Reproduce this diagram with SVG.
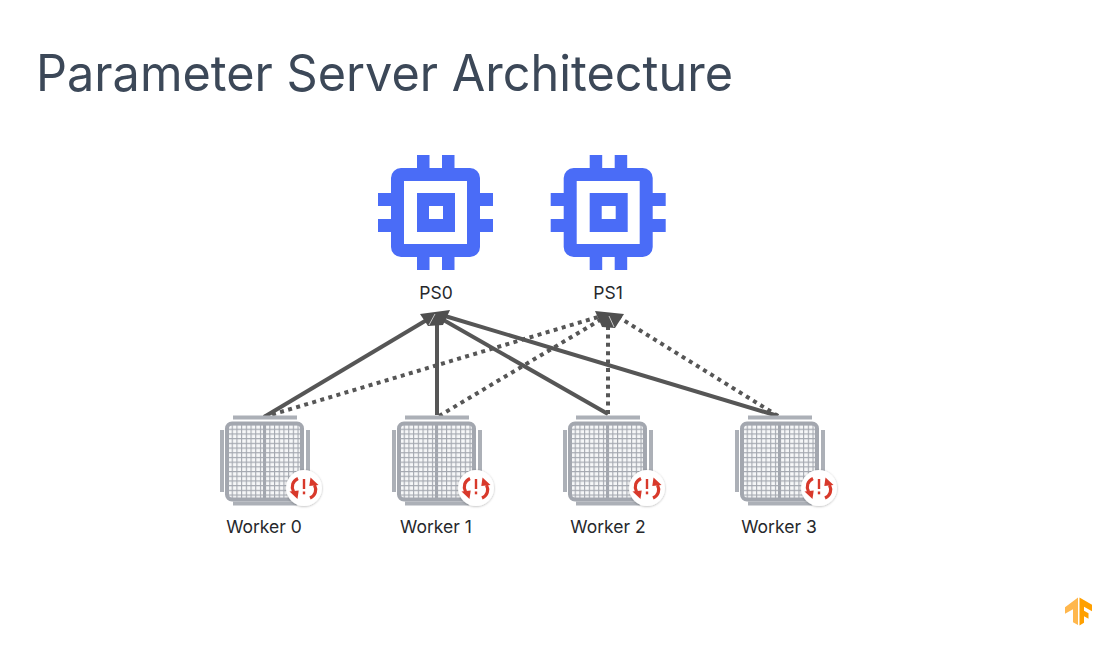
<svg xmlns="http://www.w3.org/2000/svg" xmlns:xlink="http://www.w3.org/1999/xlink" width="1108" height="645" viewBox="0 0 1108 645">
<style>
.lbl{font-family:"Inter","Liberation Sans",sans-serif;font-size:17.500px;fill:#26282c;text-anchor:middle}
.title{font-family:"Inter","Liberation Sans",sans-serif;font-size:50px;fill:#3c4858}
.solid{fill:none;stroke:#565656;stroke-width:4}
.dot{fill:none;stroke:#565656;stroke-width:4;stroke-dasharray:4 4.400}
.head{fill:#4f4f4f}
.slit{fill:none;stroke:#c9c9c9;stroke-width:1}
.chip{fill:#4a6cf7}
.bar{fill:#acb0b7}
.red{fill:none;stroke:#d8392b;stroke-width:3.200}
.redf{fill:#d8392b}
</style>
<defs>
<pattern id="mesh" x="227" y="424" width="4.700" height="4.700" patternUnits="userSpaceOnUse">
<rect width="4.700" height="4.700" fill="#f6f7f8"/>
<path d="M0 0H4.700M0 0V4.700" stroke="#a4a8b0" stroke-width="2.200" fill="none"/>
</pattern>
<filter id="soft" x="-30%" y="-30%" width="160%" height="160%">
<feDropShadow dx="0" dy="0.500" stdDeviation="1.200" flood-color="#000000" flood-opacity="0.300"/>
</filter>
<g id="chipIcon">
<path class="chip" fill-rule="evenodd" d="M417 155h12.500v13h12.500v-13h12.500v13h15.500a10 10 0 0 1 10 10v15h13v13h-13v13h13v13h-13v15a10 10 0 0 1 -10 10h-15.500v13h-12.500v-13h-12.500v13h-12.500v-13h-16a10 10 0 0 1 -10 -10v-15h-13v-13h13v-13h-13v-13h13v-15a10 10 0 0 1 10 -10h16zM404 181v63h63v-63zM417 193h38v39h-38zM429 206v13h14v-13z"/>
</g>
<g id="workerIcon">
<rect class="bar" x="233" y="415.500" width="64" height="4"/>
<rect class="bar" x="233" y="501.500" width="64" height="4"/>
<rect class="bar" x="220" y="430" width="4" height="62"/>
<rect class="bar" x="306" y="430" width="4" height="62"/>
<rect x="227" y="423.500" width="75" height="76" rx="5" fill="url(#mesh)" stroke="#a3a7af" stroke-width="4"/>
<path d="M264.500 423V500" stroke="#a3a7af" stroke-width="3"/>
<circle cx="304" cy="488" r="18" fill="#ffffff" filter="url(#soft)"/>
<path class="red" d="M298 478.500c-5.500 2.500-7 8-4.500 13"/>
<path class="redf" d="M289.500 491.500l8 7.500 1.200-8.500z"/>
<path class="red" d="M310 498c5.500-2.500 7-8 4.500-13"/>
<path class="redf" d="M318.500 485l-8-7.500-1.200 8.500z"/>
<rect class="redf" x="302.800" y="479" width="2.400" height="10"/>
<rect class="redf" x="302.800" y="491.500" width="2.400" height="2.800"/>
</g>
</defs>
<rect width="1108" height="645" fill="#ffffff"/>
<text class="title" x="36" y="91" textLength="697" lengthAdjust="spacingAndGlyphs">Parameter Server Architecture</text>
<g id="connectors">
<path class="solid" d="M264 417L430 318"/>
<path class="solid" d="M437 415V322"/>
<path class="solid" d="M608 414L440 318"/>
<path class="solid" d="M778 416L445 316"/>
<path class="dot" d="M264 417L598 317"/>
<path class="dot" d="M439 416L600 320"/>
<path class="dot" d="M608 414V325"/>
<path class="dot" d="M778 416L620 318"/>
<path class="head" d="M420 314L450 310L443 325L428 326z"/>
<path class="slit" d="M429 325L435 314"/>
<path class="head" d="M595 311L624 314L615 328L602 327z"/>
<path class="slit" d="M614 327L609 316"/>
</g>
<g id="ps0"><use xlink:href="#chipIcon" href="#chipIcon"/><text class="lbl" x="436" y="299">PS0</text></g>
<g id="ps1"><use xlink:href="#chipIcon" href="#chipIcon" x="172.700"/><text class="lbl" x="608" y="299">PS1</text></g>
<g id="worker0"><use xlink:href="#workerIcon" href="#workerIcon"/><text class="lbl" x="264" y="533">Worker 0</text></g>
<g id="worker1"><use xlink:href="#workerIcon" href="#workerIcon" x="172"/><text class="lbl" x="436" y="533">Worker 1</text></g>
<g id="worker2"><use xlink:href="#workerIcon" href="#workerIcon" x="343"/><text class="lbl" x="608" y="533">Worker 2</text></g>
<g id="worker3"><use xlink:href="#workerIcon" href="#workerIcon" x="515"/><text class="lbl" x="779" y="533">Worker 3</text></g>
<g id="tf-logo">
<path fill="#ffb74d" d="M1078 597.500v27.500l-5-2.800v-13l-8 4.500v-6.500z"/>
<path fill="#ffa000" d="M1079.500 597.500l12.500 7.200v6.500l-8-4.500v4l4.500 2.600v5.500l-4.500-2.600v6.500l-4.500 2.800z"/>
</g>
</svg>
